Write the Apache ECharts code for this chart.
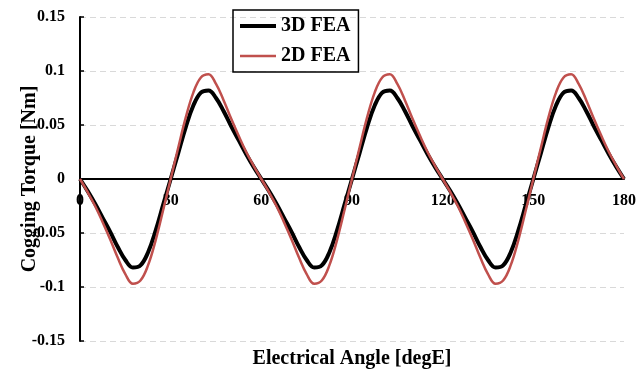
<!DOCTYPE html>
<html>
<head>
<meta charset="utf-8">
<script src="https://cdn.jsdelivr.net/npm/echarts@6/dist/echarts.min.js"></script>
<style>
html,body{margin:0;padding:0;background:#fff;}
#c{width:637px;height:372px;}
</style>
</head>
<body>
<div id="c"></div>
<script>
const angles = [0,2.5,5,7.5,10,12.5,15,17.5,20,22.5,25,27.5,30,32.5,35,37.5,40,42.5,45,47.5,50,52.5,55,57.5,
  60,62.5,65,67.5,70,72.5,75,77.5,80,82.5,85,87.5,90,92.5,95,97.5,100,102.5,105,107.5,110,112.5,115,117.5,
  120,122.5,125,127.5,130,132.5,135,137.5,140,142.5,145,147.5,150,152.5,155,157.5,160,162.5,165,167.5,170,172.5,175,177.5,180];

const fea3D = [0,-0.011,-0.023,-0.036,-0.049,-0.063,-0.075,-0.082,-0.080,-0.068,-0.048,-0.024,0,0.024,0.048,0.068,0.080,0.082,0.075,0.063,0.049,0.036,0.023,0.011,
  0,-0.011,-0.023,-0.036,-0.049,-0.063,-0.075,-0.082,-0.080,-0.068,-0.048,-0.024,0,0.024,0.048,0.068,0.080,0.082,0.075,0.063,0.049,0.036,0.023,0.011,
  0,-0.011,-0.023,-0.036,-0.049,-0.063,-0.075,-0.082,-0.080,-0.068,-0.048,-0.024,0,0.024,0.048,0.068,0.080,0.082,0.075,0.063,0.049,0.036,0.023,0.011,0];

const fea2D = [0,-0.012,-0.025,-0.040,-0.056,-0.073,-0.088,-0.097,-0.094,-0.080,-0.057,-0.029,0,0.029,0.057,0.080,0.094,0.097,0.088,0.073,0.056,0.040,0.025,0.012,
  0,-0.012,-0.025,-0.040,-0.056,-0.073,-0.088,-0.097,-0.094,-0.080,-0.057,-0.029,0,0.029,0.057,0.080,0.094,0.097,0.088,0.073,0.056,0.040,0.025,0.012,
  0,-0.012,-0.025,-0.040,-0.056,-0.073,-0.088,-0.097,-0.094,-0.080,-0.057,-0.029,0,0.029,0.057,0.080,0.094,0.097,0.088,0.073,0.056,0.040,0.025,0.012,0];

const seriesNames = ['3D FEA','2D FEA'];
const xTitle = 'Electrical Angle [degE]';
const yTitle = 'Cogging Torque [Nm]';

const font = '"Liberation Serif","Times New Roman",serif';
const chart = echarts.init(document.getElementById('c'), null, {renderer:'canvas'});
chart.setOption({
  backgroundColor:'#fff',
  animation:false,
  grid:{left:80,right:13,top:17,bottom:31,containLabel:false,outerBoundsMode:'none'},
  legend:{
    orient:'vertical', left:233, top:10,
    borderColor:'#000', borderWidth:1.5, borderRadius:0,
    padding:[6,8,6,7], itemWidth:36, itemHeight:16, itemGap:10,
    symbolKeepAspect:true,
    textStyle:{fontFamily:font,fontWeight:'bold',fontSize:20,color:'#000'},
    data:[
      {name:seriesNames[0],icon:'path://M0,0h36v4h-36z',itemStyle:{color:'#000'}},
      {name:seriesNames[1],icon:'path://M0,0h36v2.5h-36z',itemStyle:{color:'#c0504d'}}
    ]
  },
  xAxis:{
    type:'value', min:0, max:180, interval:30,
    position:'bottom', offset:-162,
    name:xTitle, nameLocation:'middle', nameGap:170, nameMoveOverlap:false,
    nameTextStyle:{fontFamily:font,fontWeight:'bold',fontSize:20,color:'#000'},
    axisLine:{onZero:false,lineStyle:{color:'#000',width:2}},
    axisTick:{show:false},
    axisLabel:{fontFamily:font,fontWeight:'bold',fontSize:16,color:'#000',margin:14},
    splitLine:{show:false}
  },
  yAxis:{
    type:'value', min:-0.15, max:0.15, interval:0.05,
    name:yTitle, nameLocation:'middle', nameGap:40, nameMoveOverlap:false,
    nameTextStyle:{fontFamily:font,fontWeight:'bold',fontSize:20,color:'#000'},
    axisLine:{show:true,lineStyle:{color:'#000',width:2}},
    axisTick:{show:true,inside:true,length:4,lineStyle:{color:'#000',width:1.5}},
    axisLabel:{fontFamily:font,fontWeight:'bold',fontSize:16,color:'#000',margin:15,
      formatter:function(v){return String(Math.round(v*100)/100);}},
    splitLine:{show:true,lineStyle:{color:'#d9d9d9',type:[6,4],width:1}}
  },
  series:[
    {name:seriesNames[0],type:'line',smooth:0.4,symbol:'none',
     lineStyle:{color:'#000',width:4},itemStyle:{color:'#000'},
     data:angles.map((a,i)=>[a,fea3D[i]])},
    {name:seriesNames[1],type:'line',smooth:0.4,symbol:'none',
     lineStyle:{color:'#c0504d',width:2.5},itemStyle:{color:'#c0504d'},
     data:angles.map((a,i)=>[a,fea2D[i]])}
  ]
});
</script>
</body>
</html>
